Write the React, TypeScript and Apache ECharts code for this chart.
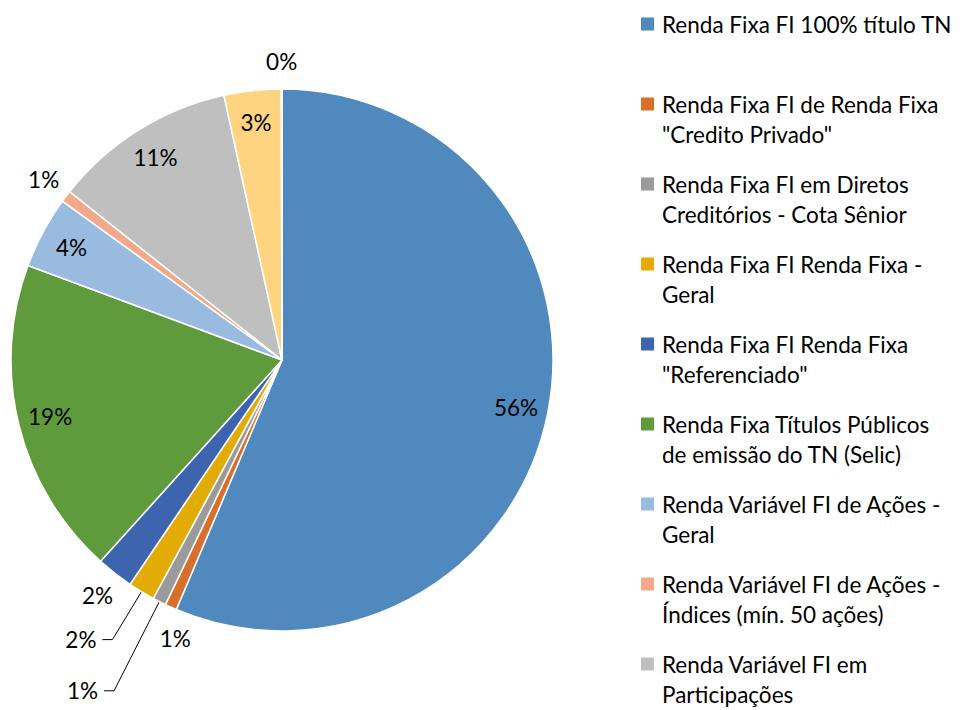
import React, { useEffect, useRef } from "react";
import * as echarts from "echarts";

const categories = [
  "Renda Fixa FI 100% título TN",
  "Renda Fixa FI de Renda Fixa \"Credito Privado\"",
  "Renda Fixa FI em Diretos Creditórios - Cota Sênior",
  "Renda Fixa FI Renda Fixa - Geral",
  "Renda Fixa FI Renda Fixa \"Referenciado\"",
  "Renda Fixa Títulos Públicos de emissão do TN (Selic)",
  "Renda Variável FI de Ações - Geral",
  "Renda Variável FI de Ações - Índices (mín. 50 ações)",
  "Renda Variável FI em Participações",
  "Renda Variável FI Imobiliário",
  "Outros",
];

const values = [56.4, 0.7, 0.8, 1.6, 2.2, 19.0, 4.3, 0.7, 10.9, 3.4, 0.04];

const colors = [
  "#4F89BE",
  "#D8702B",
  "#9A9A9A",
  "#E2AB06",
  "#3D64AE",
  "#5F9A3D",
  "#9ABBE0",
  "#F2A98A",
  "#BFBFBF",
  "#FFD480",
  "#7F7F7F",
];

const legendLines = [
  ["Renda Fixa FI 100% título TN", " "],
  ["Renda Fixa FI de Renda Fixa", "\"Credito Privado\""],
  ["Renda Fixa FI em Diretos", "Creditórios - Cota Sênior"],
  ["Renda Fixa FI Renda Fixa -", "Geral"],
  ["Renda Fixa FI Renda Fixa", "\"Referenciado\""],
  ["Renda Fixa Títulos Públicos", "de emissão do TN (Selic)"],
  ["Renda Variável FI de Ações -", "Geral"],
  ["Renda Variável FI de Ações -", "Índices (mín. 50 ações)"],
  ["Renda Variável FI em", "Participações"],
];

const insideLabelIdx = [0, 5, 6, 8, 9];
const outsideLabelIdx = [1, 4, 7, 10];
const leaderLabelIdx = [2, 3];
const leaderLength: Record<number, number> = { 2: 100, 3: 56 };
const labelShift: Record<number, number[]> = { 1: [16, 6] };

const FONT = "Lato";
const FS = 22.5;

export default function App() {
  const ref = useRef<HTMLDivElement>(null);

  useEffect(() => {
    if (!ref.current) return;
    const chart = echarts.init(ref.current, undefined, { renderer: "svg" });

    const pct = (p: any) => `${Math.round(p.percent)}%`;
    const center = [282, 360];
    const R = 271;

    const rich: Record<string, any> = {
      t: { fontFamily: FONT, fontSize: FS, color: "#000", lineHeight: 30, verticalAlign: "middle" },
      g: { width: 8, lineHeight: 30 },
      p: { width: 21, lineHeight: 30 },
    };
    colors.forEach((c, i) => {
      rich["s" + i] = { width: 13, height: 13, backgroundColor: c, verticalAlign: "middle" };
    });

    const labelText = { fontFamily: FONT, fontSize: FS, color: "#000" };

    const mainData = categories.map((name, i) => ({
      name,
      value: values[i],
      itemStyle: { color: colors[i] },
      label: { show: leaderLabelIdx.includes(i) },
      labelLine: leaderLabelIdx.includes(i)
        ? { show: true, length: leaderLength[i], length2: 10 }
        : { show: false },
    }));

    const overlayData = (idx: number[]) =>
      categories.map((name, i) => ({
        name,
        value: values[i],
        label: { show: idx.includes(i), offset: labelShift[i] || [0, 0] },
      }));

    const overlayBase = {
      type: "pie",
      center,
      startAngle: 90,
      clockwise: true,
      silent: true,
      avoidLabelOverlap: false,
      itemStyle: { color: "rgba(0,0,0,0)", borderWidth: 0 },
      labelLine: { show: false },
      emphasis: { disabled: true },
      tooltip: { show: false },
    };

    chart.setOption({
      animation: false,
      backgroundColor: "#fff",
      legend: {
        orient: "vertical",
        left: 636,
        top: 9,
        padding: 0,
        itemGap: 20,
        height: 1200,
        icon: "none",
        itemWidth: 0,
        itemHeight: 0,
        selectedMode: false,
        data: categories.slice(0, legendLines.length),
        formatter: (name: string) => {
          const i = categories.indexOf(name);
          const lines = legendLines[i];
          return `{s${i}|}{g|}{t|${lines[0]}}\n{p|}{t|${lines[1]}}`;
        },
        textStyle: { fontFamily: FONT, fontSize: FS, color: "#000", lineHeight: 30, rich },
      },
      series: [
        {
          type: "pie",
          center,
          radius: R,
          startAngle: 90,
          clockwise: true,
          avoidLabelOverlap: false,
          itemStyle: { borderColor: "#fff", borderWidth: 1.5 },
          label: { position: "outside", formatter: pct, distanceToLabelLine: 6, ...labelText },
          labelLine: { lineStyle: { color: "#000", width: 1 } },
          emphasis: { disabled: true },
          data: mainData,
        },
        {
          ...overlayBase,
          radius: 2 * 0.87 * R,
          label: { position: "inside", formatter: pct, ...labelText },
          data: overlayData(insideLabelIdx),
        },
        {
          ...overlayBase,
          radius: 2 * (R + 25),
          label: { position: "inside", formatter: pct, ...labelText },
          data: overlayData(outsideLabelIdx),
        },
      ],
    });

    return () => chart.dispose();
  }, []);

  return (
    <div
      ref={ref}
      style={{ position: "fixed", left: 0, top: 0, width: 970, height: 710 }}
    />
  );
}
